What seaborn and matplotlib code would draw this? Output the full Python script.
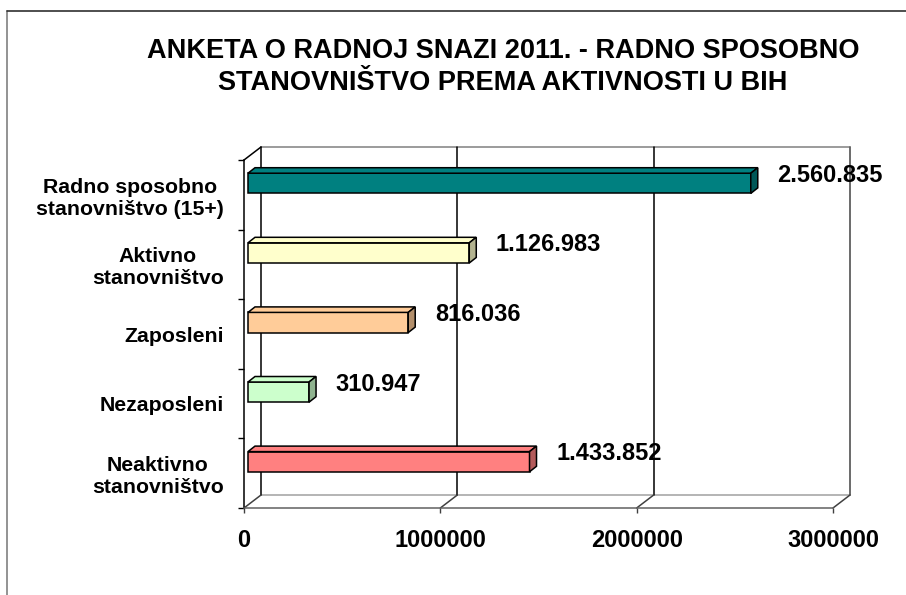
import matplotlib.pyplot as plt
import seaborn as sns
import pandas as pd
from matplotlib.patches import Polygon
from matplotlib.lines import Line2D
from matplotlib.ticker import FuncFormatter

# Podaci sa grafika
kategorije = ['Radno sposobno\nstanovništvo (15+)', 'Aktivno\nstanovništvo',
              'Zaposleni', 'Nezaposleni', 'Neaktivno\nstanovništvo']
vrijednosti = [2560835, 1126983, 816036, 310947, 1433852]
boje = ['#008080', '#FFFFCC', '#FFCC99', '#CCFFCC', '#FF8080']
boje_strana = ['#005858', '#B3B38F', '#B38F6B', '#8FB38F', '#B35A5A']
x_tickovi = [0, 1000000, 2000000, 3000000]
naslov = 'ANKETA O RADNOJ SNAZI 2011. - RADNO SPOSOBNO\nSTANOVNIŠTVO PREMA AKTIVNOSTI U BIH'

W, H = 906, 595
X_MAX = 3000000
AX_W, AX_H = 589, 348          # prednja ravan u pikselima
DX, DY = 17 / AX_W, 13 / AX_H  # dubina zadnjeg zida (udio osa)


def main():
    sns.set_style("white")
    plt.rcParams['font.family'] = ['Liberation Sans', 'DejaVu Sans']
    plt.rcParams['text.color'] = 'black'
    plt.rcParams['xtick.labelcolor'] = 'black'
    plt.rcParams['ytick.labelcolor'] = 'black'

    df = pd.DataFrame({'kategorija': kategorije, 'vrijednost': vrijednosti})

    fig = plt.figure(figsize=(W / 100, H / 100), dpi=100)
    ax = fig.add_axes([244 / W, 87 / H, AX_W / W, AX_H / H])

    sns.barplot(data=df, y='kategorija', x='vrijednost', hue='kategorija',
                palette=boje, orient='h', width=0.29, legend=False,
                edgecolor='black', linewidth=1.1, saturation=1, ax=ax)

    ax.set_xlim(0, X_MAX)
    ax.set_ylim(4.5, -0.5)

    # pretvaranje piksela u jedinice podataka
    px_x = X_MAX / AX_W
    px_y = 5 / AX_H

    # --- 3D izgled stubaca ---
    dub_x, dub_y = 7 * px_x, 5.5 * px_y
    for p, boja, strana in zip(ax.patches, boje, boje_strana):
        p.set_x(p.get_x() + 4 * px_x)
        p.set_y(p.get_y() - 11.5 * px_y)
        x0, y0 = p.get_x(), p.get_y()
        x1, y1 = x0 + p.get_width(), y0 + p.get_height()
        vrh = Polygon([(x0, y0), (x1, y0), (x1 + dub_x, y0 - dub_y), (x0 + dub_x, y0 - dub_y)],
                      closed=True, facecolor=boja, edgecolor='black', linewidth=1.1, zorder=3)
        bok = Polygon([(x1, y0), (x1 + dub_x, y0 - dub_y), (x1 + dub_x, y1 - dub_y), (x1, y1)],
                      closed=True, facecolor=strana, edgecolor='black', linewidth=1.1, zorder=3)
        ax.add_patch(vrh)
        ax.add_patch(bok)
        p.set_zorder(3)

    # --- oznake vrijednosti ---
    for i, v in enumerate(vrijednosti):
        ax.annotate(f"{v:,}".replace(",", "."), xy=(v, i), xytext=(22, 14),
                    textcoords='offset points', ha='left', va='center',
                    fontsize=17, fontweight='bold', color='black', annotation_clip=False)

    # --- zadnji zid, pod i mreža ---
    tr = ax.transAxes
    def linija(xs, ys, boja, lw=1.1):
        ax.add_line(Line2D(xs, ys, transform=tr, color=boja, lw=lw,
                           clip_on=False, zorder=0.5))

    linija([DX, 1 + DX], [1 + DY, 1 + DY], '#808080')
    linija([1 + DX, 1 + DX], [DY, 1 + DY], '#808080')
    linija([DX, 1 + DX], [DY, DY], '#a0a0a0')
    linija([0, DX], [1, 1 + DY], 'black')
    for t in x_tickovi:
        xf = t / X_MAX
        linija([xf + DX, xf + DX], [DY, 1 + DY], 'black' if t < X_MAX else '#606060')
        linija([xf, xf + DX], [0, DY], '#404040')

    # --- ose ---
    for s in ['top', 'right']:
        ax.spines[s].set_visible(False)
    ax.spines['left'].set_color('black')
    ax.spines['left'].set_linewidth(1.1)
    ax.spines['bottom'].set_color('#606060')
    ax.spines['bottom'].set_linewidth(1.1)

    ax.set_xticks(x_tickovi)
    ax.xaxis.set_major_formatter(FuncFormatter(lambda x, pos: f"{int(x)}"))
    ax.tick_params(axis='x', length=3.5, width=1, color='#404040', pad=11.5,
                   labelsize=17, bottom=True)
    for lbl in ax.get_xticklabels():
        lbl.set_fontweight('bold')

    ax.set_yticks(range(len(kategorije)))
    ax.set_yticklabels(kategorije)
    ax.set_yticks([i - 0.5 for i in range(len(kategorije) + 1)], minor=True)
    ax.tick_params(axis='y', which='major', length=0, pad=14.5, labelsize=15.3)
    ax.tick_params(axis='y', which='minor', length=4, width=1, color='black', left=True)
    for lbl in ax.get_yticklabels():
        lbl.set_fontweight('bold')
        lbl.set_multialignment('center')

    ax.set_xlabel('')
    ax.set_ylabel('')
    ax.grid(False)

    # --- naslov i okvir ---
    fig.text(503 / W, 1 - 67 / H, naslov, ha='center', va='center', fontsize=19.5,
             fontweight='bold', linespacing=1.28, color='black')
    fig.add_artist(Line2D([7 / W, 7 / W], [0, 1 - 11 / H], color='#808080', lw=1.2))
    fig.add_artist(Line2D([7 / W, 1], [1 - 11 / H, 1 - 11 / H], color='#303030', lw=1.2))

    plt.savefig('out.png', dpi=100)


if __name__ == "__main__":
    main()
